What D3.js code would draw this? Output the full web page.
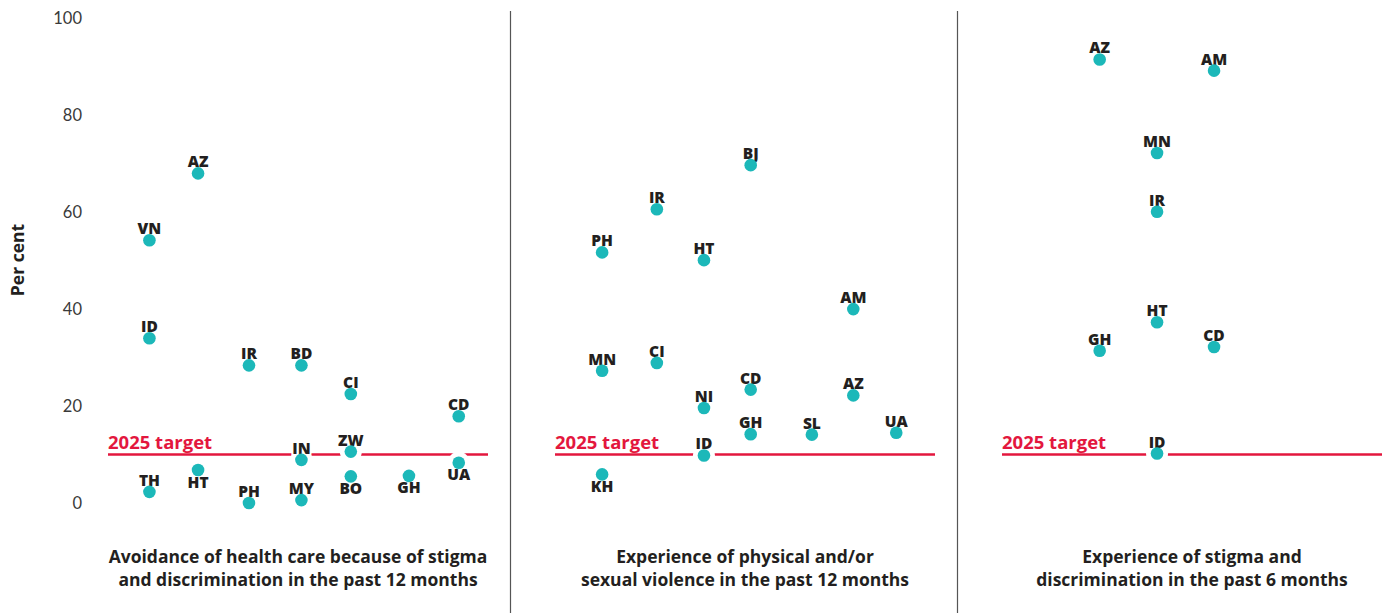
<!DOCTYPE html>
<html>
<head>
<meta charset="utf-8">
<script src="https://cdn.jsdelivr.net/npm/d3@7"></script>
<style>
  html, body { margin: 0; padding: 0; background: #fff; }
  svg { display: block; font-family: "Open Sans", "Noto Sans", sans-serif; }
</style>
</head>
<body>
<svg id="chart" width="1391" height="613"></svg>
<script>
// ---------- data ----------
const panelTitles = [
  ["Avoidance of health care because of stigma", "and discrimination in the past 12 months"],
  ["Experience of physical and/or", "sexual violence in the past 12 months"],
  ["Experience of stigma and", "discrimination in the past 6 months"]
];

// Panel 1: avoidance of health care
const p1Codes  = ["VN","AZ","ID","IR","BD","CI","CD","TH","HT","IN","ZW","BO","GH","UA","PH","MY"];
const p1Values = [54.2, 68.0, 34.0, 28.4, 28.4, 22.5, 17.9, 2.3, 6.8, 8.9, 10.6, 5.5, 5.6, 8.3, 0.0, 0.6];
const p1Pos    = [0.109,0.237,0.109,0.371,0.509,0.639,0.923,0.109,0.237,0.509,0.639,0.639,0.792,0.923,0.371,0.509];
const p1Below  = ["HT","BO","GH","UA"];

// Panel 2: physical and/or sexual violence
const p2Codes  = ["BJ","IR","PH","HT","AM","MN","CI","CD","AZ","NI","GH","SL","UA","ID","KH"];
const p2Values = [69.7, 60.6, 51.7, 50.1, 40.0, 27.3, 28.9, 23.4, 22.2, 19.6, 14.2, 14.1, 14.5, 9.8, 5.9];
const p2Pos    = [0.515,0.268,0.124,0.392,0.785,0.124,0.268,0.515,0.785,0.392,0.515,0.676,0.898,0.392,0.124];
const p2Below  = ["KH"];

// Panel 3: stigma and discrimination
const p3Codes  = ["AZ","AM","MN","IR","HT","GH","CD","ID"];
const p3Values = [91.5, 89.2, 72.2, 60.1, 37.3, 31.4, 32.2, 10.2];
const p3Pos    = [0.257,0.558,0.408,0.408,0.408,0.257,0.558,0.408];
const p3Below  = [];

const yTicks = [0, 20, 40, 60, 80, 100];
const targetValue = 10;
const targetLabel = "2025 target";
const yTitle = "Per cent";

// ---------- layout ----------
const svg = d3.select("#chart");
const dotColor = "#1cb8b9";
const targetColor = "#e3173e";
const textColor = "#231f20";
const boldFont = "'Open Sans', 'Noto Sans', sans-serif";

const y = d3.scaleLinear().domain([0, 100]).range([503, 18.3]);
const panelStep = 447;
const panelLine = [108, 488];

const panels = [
  {codes: p1Codes, values: p1Values, pos: p1Pos, below: p1Below},
  {codes: p2Codes, values: p2Values, pos: p2Pos, below: p2Below},
  {codes: p3Codes, values: p3Values, pos: p3Pos, below: p3Below}
];

// Y axis
const yAxis = d3.axisLeft(y).tickValues(yTicks).tickSize(0).tickPadding(0);
const gy = svg.append("g").attr("transform", "translate(82,0)").call(yAxis);
gy.select(".domain").remove();
gy.selectAll("text")
  .attr("font-family", "Lato, 'Noto Sans', sans-serif")
  .attr("font-size", 16.5)
  .attr("fill", "#3a3a3a")
  .attr("dy", "0.34em");

svg.append("text")
  .attr("transform", "translate(24,260) rotate(-90)")
  .attr("text-anchor", "middle")
  .attr("font-family", boldFont)
  .attr("font-size", 17.5)
  .attr("font-weight", 700)
  .attr("fill", textColor)
  .text(yTitle);

// dividers
[1, 2].forEach(i => {
  const xd = panelLine[0] + panelStep * i - 44;
  svg.append("line")
    .attr("x1", xd - 0.5).attr("x2", xd - 0.5)
    .attr("y1", 11).attr("y2", 613)
    .attr("stroke", "#555").attr("stroke-width", 1.2);
});

panels.forEach((p, i) => {
  const off = panelStep * i;
  const x = d3.scaleLinear().domain([0, 1]).range([panelLine[0] + off, panelLine[1] + off]);
  const g = svg.append("g").attr("font-family", boldFont);
  const data = p.codes.map((c, k) => ({code: c, value: p.values[k], pos: p.pos[k], below: p.below.includes(c)}));

  // target line
  g.append("line")
    .attr("x1", x(0)).attr("x2", x(1))
    .attr("y1", y(targetValue)).attr("y2", y(targetValue))
    .attr("stroke", targetColor).attr("stroke-width", 2.5);
  g.append("text")
    .attr("x", x(0)).attr("y", y(targetValue) - 6)
    .attr("font-size", 18.5).attr("font-weight", 700)
    .attr("fill", targetColor)
    .text(targetLabel);

  // dot halos
  g.selectAll(".halo").data(data).enter().append("circle")
    .attr("cx", d => x(d.pos)).attr("cy", d => y(d.value))
    .attr("r", 11).attr("fill", "#fff");

  // labels
  g.selectAll(".lab").data(data).enter().append("text")
    .attr("x", d => x(d.pos))
    .attr("y", d => y(d.value) + (d.below ? 17.5 : -6))
    .attr("text-anchor", "middle")
    .attr("font-size", 15.5).attr("font-weight", 800)
    .attr("fill", textColor)
    .attr("stroke", "#fff").attr("stroke-width", 4)
    .attr("stroke-linejoin", "round")
    .attr("paint-order", "stroke")
    .text(d => d.code);

  // dots
  g.selectAll(".dot").data(data).enter().append("circle")
    .attr("cx", d => x(d.pos)).attr("cy", d => y(d.value))
    .attr("r", 6.3).attr("fill", dotColor);

  // title
  const t = g.append("text")
    .attr("text-anchor", "middle")
    .attr("font-size", 17.5).attr("font-weight", 700)
    .attr("fill", textColor);
  panelTitles[i].forEach((line, li) => {
    t.append("tspan")
      .attr("x", (x(0) + x(1)) / 2)
      .attr("y", 563 + li * 23)
      .text(line);
  });
});
</script>
</body>
</html>
